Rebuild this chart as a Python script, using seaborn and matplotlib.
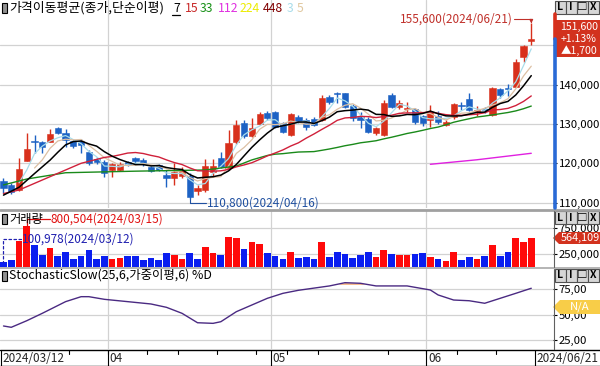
import matplotlib
matplotlib.use("Agg")
import matplotlib.pyplot as plt
from matplotlib.patches import Rectangle, Polygon
import numpy as np
import pandas as pd
import seaborn as sns

W, H = 600, 366

# trading days shown (2024)
MARCH = [12, 13, 14, 15, 18, 19, 20, 21, 22, 25, 26, 27, 28, 29]
APRIL = [1, 2, 3, 4, 5, 8, 9, 11, 12, 15, 16, 17, 18, 19, 22, 23, 24, 25, 26, 29, 30]
MAY = [2, 3, 7, 8, 9, 10, 13, 14, 16, 17, 20, 21, 22, 23, 24, 27, 28, 29, 30, 31]
JUNE = [3, 4, 5, 7, 10, 11, 12, 13, 14, 17, 18, 19, 20, 21]

OPEN = [115500, 114500, 113200, 120700, 125700, 125300, 125500, 128900, 127800, 125800,
        125800, 123000, 121000, 120400, 118300, 118400, 120300, 121300, 120800, 119000,
        119600, 117000, 116200, 116800, 116800, 113000, 113200, 117900, 121300, 118700,
        125300, 130300, 127000, 130000, 132700, 133000, 130200, 127200, 131900, 131000,
        131400, 131000, 136900, 137900, 137800, 134700, 131900, 131400, 127600, 127200,
        137400, 134400, 133900, 133700, 132000, 131000, 132000, 129700, 131700, 134700,
        136300, 133200, 133700, 132300, 138900, 139000, 139500, 147100, 151000]
HIGH = [116200, 115000, 121300, 127600, 127200, 125700, 128700, 129200, 128700, 126000,
        126200, 123500, 121500, 120800, 120100, 120300, 120700, 121600, 121400, 119200,
        119900, 118300, 120100, 119100, 117500, 114400, 121100, 121100, 122800, 128500,
        131000, 131000, 131500, 133000, 133300, 133300, 130500, 132800, 132300, 131500,
        131800, 137400, 137300, 138100, 138000, 135000, 133100, 131700, 129300, 136100,
        137800, 136000, 135500, 134200, 132400, 134800, 133300, 131000, 135400, 135600,
        137800, 134500, 134400, 139400, 139200, 140200, 146500, 150200, 155600]
LOW = [112500, 112100, 112900, 120500, 122500, 122500, 125300, 127500, 124200, 124000,
       122500, 119500, 119800, 116600, 116500, 118000, 119200, 120200, 119300, 117800,
       118000, 114000, 114500, 116300, 110800, 111900, 112800, 116600, 118800, 118400,
       125000, 126500, 126800, 129700, 131000, 129000, 127800, 127000, 130300, 128600,
       129400, 130800, 135000, 135300, 134000, 130800, 128900, 127600, 127300, 127000,
       134000, 133800, 133000, 129900, 129500, 129300, 130000, 129400, 131400, 133500,
       133300, 132000, 132700, 132000, 136500, 137100, 139300, 145900, 150100]
CLOSE = [113800, 112800, 118500, 123600, 125300, 124200, 127500, 127800, 125900, 124400,
         124700, 120000, 120300, 117600, 119800, 119900, 119600, 120600, 119800, 118100,
         118300, 116200, 117700, 118300, 111500, 113800, 119300, 119300, 119100, 125200,
         129700, 126900, 129000, 132500, 131500, 129300, 128000, 132500, 130600, 129300,
         129700, 136500, 135700, 137600, 134400, 131600, 131000, 128000, 128900, 135300,
         134400, 135300, 134100, 130600, 130200, 133100, 130600, 130600, 135000, 134500,
         133600, 133400, 133500, 139100, 137400, 138800, 145900, 149900, 151600]
VOLUME = [100978, 140000, 506000, 800504, 429000, 237000, 371000, 224000, 294000, 160000,
          217000, 333000, 160000, 217000, 153000, 179000, 217000, 217000, 140000, 172000,
          140000, 275000, 243000, 160000, 275000, 160000, 390000, 275000, 243000, 589000,
          564000, 352000, 487000, 442000, 275000, 217000, 160000, 294000, 179000, 198000,
          160000, 487000, 198000, 294000, 256000, 179000, 237000, 294000, 198000, 333000,
          256000, 237000, 237000, 256000, 275000, 198000, 160000, 121000, 294000, 140000,
          198000, 160000, 217000, 435000, 217000, 294000, 564000, 487000, 564109]
VOLUME_SIDE = "BBRRBBRBBB" "BBBBRRBBBB" "BBRRBBRRBR" "RBRRBBBRBB" "BRBBBBBBRR" "BRRBBRBRRB" "BRBRBBRRR"

MA7_HEAD_IDX, MA7_HEAD = [0, 2, 4], [111900, 113900, 117400]
MA15_HEAD_IDX, MA15_HEAD = [0, 2, 6, 10, 13], [112300, 113200, 116600, 120000, 121500]
MA33_HEAD_IDX, MA33_HEAD = [0, 3, 8, 17, 26, 30], [114500, 116000, 117600, 118000, 118300, 119300]
MA112_IDX, MA112 = [55, 61, 68], [119750, 120900, 122550]

STOCH_IDX = [0, 1, 3, 5, 8, 10, 11, 13, 16, 19, 21, 23, 25, 27, 28, 30, 34, 36, 38,
             42, 44, 46, 48, 51, 52, 55, 56, 58, 60, 62, 64, 66, 68]
STOCH_D = [38.8, 37.5, 44.0, 51.3, 62.8, 67.7, 67.7, 65.1, 62.8, 60.5, 57.2, 51.3, 42.0,
           41.4, 43.0, 52.9, 66.1, 71.0, 74.0, 78.3, 81.5, 80.9, 78.3, 78.3, 78.3, 74.3,
           69.4, 64.4, 63.7, 61.2, 66.1, 71.0, 76.0]

PRICE_TICKS = [110000, 120000, 130000, 140000, 150000]
VOLUME_TICKS = [250000, 750000]
STOCH_TICKS = [25, 50, 75]

UP, DOWN = "#d8301c", "#1d62c4"
VOL_UP, VOL_DOWN = "#ff0a0a", "#0a1ef0"
GRID = "#d2d2d2"
FS = 8.2


def fx(x):
    return x / W


def fy(y):
    return 1 - y / H


def main() -> None:
    sns.set_theme(style="white")
    plt.rcParams["font.family"] = ["Noto Sans CJK KR", "DejaVu Sans"]
    plt.rcParams["axes.unicode_minus"] = False

    dates = ([pd.Timestamp(2024, 3, d) for d in MARCH] + [pd.Timestamp(2024, 4, d) for d in APRIL]
             + [pd.Timestamp(2024, 5, d) for d in MAY] + [pd.Timestamp(2024, 6, d) for d in JUNE])
    df = pd.DataFrame({"date": dates, "open": OPEN, "high": HIGH, "low": LOW,
                       "close": CLOSE, "volume": VOLUME, "side": list(VOLUME_SIDE)})
    df["idx"] = np.arange(len(df))
    n = len(df)

    fig = plt.figure(figsize=(W / 100, H / 100), dpi=100)

    def add_ax(top, bottom):
        return fig.add_axes([0, fy(bottom), 553 / W, (bottom - top) / H])

    ax_p = add_ax(0, 208)
    ax_v = add_ax(211, 267.3)
    ax_s = add_ax(269, 349)
    xlim = (-0.45, 70.8)

    month_starts = df.index[df["date"].dt.month != df["date"].dt.month.shift(1)][1:]

    for ax in (ax_p, ax_v, ax_s):
        ax.set_facecolor("white")
        for s in ax.spines.values():
            s.set_visible(False)
        for m in month_starts:
            ax.axvline(m - 0.5, color=GRID, lw=0.9, zorder=0)

    # ---- price panel
    ax_p.set_ylim(108626, 161560)
    for t in PRICE_TICKS:
        ax_p.axhline(t, color=GRID, lw=0.9, zorder=0)
    colors = np.where(df["close"] >= df["open"], UP, DOWN)
    ax_p.vlines(df["idx"], df["low"], df["high"], colors=colors, lw=1, zorder=2)
    body = np.maximum((df["close"] - df["open"]).abs(), 250)
    ax_p.bar(df["idx"], body, bottom=np.minimum(df["open"], df["close"]), width=0.8,
             color=colors, edgecolor=colors, lw=0.4, zorder=3)

    close_s = df["close"].astype(float)

    def ma_series(window, head_idx, head_val):
        tail = close_s.rolling(window).mean().dropna()
        return list(head_idx) + list(tail.index), list(head_val) + list(tail.values)

    ma3 = close_s.rolling(3).mean().dropna()
    ma5 = close_s.rolling(5).mean().dropna()
    sns.lineplot(x=ma3.index, y=ma3.values, ax=ax_p, color="#a8dcea", lw=0.9, zorder=4)
    sns.lineplot(x=ma5.index, y=ma5.values, ax=ax_p, color="#dcc0a4", lw=0.9, zorder=4)
    for win, hi, hv, col, lw in [(33, MA33_HEAD_IDX, MA33_HEAD, "#1a8a1a", 1.0),
                                 (15, MA15_HEAD_IDX, MA15_HEAD, "#d0203a", 1.0),
                                 (7, MA7_HEAD_IDX, MA7_HEAD, "black", 1.1)]:
        xs, ys = ma_series(win, hi, hv)
        sns.lineplot(x=xs, y=ys, ax=ax_p, color=col, lw=lw, zorder=4, estimator=None, sort=False)
    sns.lineplot(x=MA112_IDX, y=MA112, ax=ax_p, color="#e020e0", lw=1.0, zorder=4)

    imax = int(df["high"].idxmax())
    imin = int(df["low"].idxmin())
    hi_val, lo_val = df.loc[imax, "high"], df.loc[imin, "low"]
    ax_p.annotate("", xy=(imax, hi_val), xytext=(-17, 4.5), textcoords="offset pixels",
                  arrowprops=dict(arrowstyle="-|>", color="#c0302a", lw=0.8, mutation_scale=5,
                                  shrinkA=0, shrinkB=0,
                                  connectionstyle="angle,angleA=0,angleB=90,rad=0"), zorder=6)
    ax_p.annotate(f"{hi_val:,}({df.loc[imax, 'date']:%Y/%m/%d})", xy=(imax, hi_val),
                  xytext=(-18, 4.5), textcoords="offset pixels", ha="right", va="center",
                  fontsize=8.5, color="#c0302a", zorder=6)
    ax_p.annotate("", xy=(imin, lo_val), xytext=(16, -3.5), textcoords="offset pixels",
                  arrowprops=dict(arrowstyle="-", color="#2050a0", lw=0.8, shrinkA=0, shrinkB=0,
                                  connectionstyle="angle,angleA=0,angleB=90,rad=0"), zorder=6)
    ax_p.annotate(f"{lo_val:,}({df.loc[imin, 'date']:%Y/%m/%d})", xy=(imin, lo_val),
                  xytext=(17, -3.5), textcoords="offset pixels", ha="left", va="center",
                  fontsize=8.5, color="#2050a0", zorder=6)

    # ---- volume panel
    vmax = (267.3 - 211) / 52 * 1e6
    ax_v.set_ylim(0, vmax)
    for t in VOLUME_TICKS:
        ax_v.axhline(t, color=GRID, lw=0.9, zorder=0)
    sns.barplot(data=df, x="idx", y="volume", hue="side", palette={"R": VOL_UP, "B": VOL_DOWN},
                native_scale=True, dodge=False, width=0.86, saturation=1, errorbar=None,
                legend=False, ax=ax_v, zorder=2, linewidth=0)
    vmx = int(df["volume"].idxmax())
    vmn = int(df["volume"].idxmin())
    ax_v.annotate("", xy=(vmx, df.loc[vmx, "volume"]), xytext=(23, 6.5), textcoords="offset pixels",
                  arrowprops=dict(arrowstyle="-", color="#e01010", lw=0.9, shrinkA=0, shrinkB=0,
                                  connectionstyle="angle,angleA=0,angleB=90,rad=0"), zorder=6)
    ax_v.annotate(f"{df.loc[vmx, 'volume']:,}({df.loc[vmx, 'date']:%Y/%m/%d})",
                  xy=(vmx, df.loc[vmx, "volume"]), xytext=(23.5, 6.5), textcoords="offset pixels",
                  ha="left", va="center", fontsize=8.5, color="#e01010", zorder=6)
    ax_v.annotate("", xy=(vmn, df.loc[vmn, "volume"]), xytext=(18, 23), textcoords="offset pixels",
                  arrowprops=dict(arrowstyle="-", color="#2020b0", lw=0.9, ls=(0, (2, 2)),
                                  shrinkA=0, shrinkB=0,
                                  connectionstyle="angle,angleA=0,angleB=90,rad=0"), zorder=6)
    ax_v.annotate(f"{df.loc[vmn, 'volume']:,}({df.loc[vmn, 'date']:%Y/%m/%d})",
                  xy=(vmn, df.loc[vmn, "volume"]), xytext=(18.5, 23), textcoords="offset pixels",
                  ha="left", va="center", fontsize=8.5, color="#2020b0", zorder=6)

    # ---- stochastic panel
    ax_s.set_ylim(16.1, 95.0)
    for t in STOCH_TICKS:
        ax_s.axhline(t, color=GRID, lw=0.9, zorder=0)
    st = np.array(STOCH_D)
    ax_s.fill_between(STOCH_IDX, 80, st, where=st > 80, interpolate=True, color="#f4a060",
                      lw=0, zorder=2)
    sns.lineplot(x=STOCH_IDX, y=STOCH_D, ax=ax_s, color="#4a2a82", lw=1.0, zorder=3)

    # ---- axes, ticks (the 150,000 label sits under the price tag, so it is left blank)
    for ax, ticks, labels in [
        (ax_p, PRICE_TICKS, [f"{t:,}" if t < CLOSE[-1] - 5000 else "" for t in PRICE_TICKS]),
        (ax_v, VOLUME_TICKS, [f"{t:,}" for t in VOLUME_TICKS]),
        (ax_s, STOCH_TICKS, [f"{t},00" for t in STOCH_TICKS]),
    ]:
        ax.set_xlim(*xlim)
        ax.set_xticks([])
        ax.set_xlabel("")
        ax.set_ylabel("")
        ax.yaxis.tick_right()
        ax.set_yticks(ticks)
        ax.set_yticklabels(labels)
        ax.tick_params(axis="y", direction="out", length=3, width=0.8, pad=1.0,
                       labelsize=FS, colors="black", right=True, left=False)

    # separators and right axis bars
    fig.add_artist(plt.Line2D([0, 1], [fy(209.5), fy(209.5)], color="#a0a0a0", lw=2))
    fig.add_artist(plt.Line2D([0, 1], [fy(268), fy(268)], color="#a8a8a8", lw=1.2))
    y_close = 202.6 - (CLOSE[-1] - 110000) / 254.5
    fig.add_artist(plt.Line2D([fx(555), fx(555)], [fy(14), fy(y_close)], color="#d8301c", lw=2.6))
    fig.add_artist(plt.Line2D([fx(555), fx(555)], [fy(y_close), fy(208)], color="#2a6ad6", lw=2.6))
    for top, bot in [(211, 267), (269, 349)]:
        fig.add_artist(plt.Line2D([fx(553.5), fx(553.5)], [fy(top), fy(bot)], color="#606060", lw=0.8))

    # date axis
    fig.add_artist(plt.Line2D([0, 1], [fy(349.5), fy(349.5)], color="black", lw=1))
    fig.add_artist(plt.Line2D([0, 1], [fy(365.5), fy(365.5)], color="black", lw=1))
    week_starts = df.index[df["date"].dt.isocalendar().week != df["date"].dt.isocalendar().week.shift(1)][1:]
    for w in week_starts:
        xpx = 3.5 + 7.76 * (w - 0.5)
        fig.add_artist(plt.Line2D([fx(xpx), fx(xpx)], [fy(349.5), fy(353.5)], color="black", lw=0.8))
    for m in month_starts:
        xpx = 3.5 + 7.76 * (m - 0.5)
        fig.add_artist(plt.Line2D([fx(xpx), fx(xpx)], [fy(349.5), fy(365.5)], color="black", lw=0.8))
        fig.text(fx(xpx + 1.5), fy(358), f"{df.loc[m, 'date']:%m}", fontsize=8.5, va="center")
    fig.add_artist(plt.Line2D([fx(1), fx(1)], [fy(349.5), fy(365.5)], color="black", lw=0.8))
    fig.text(fx(2), fy(358), f"{df['date'].iloc[0]:%Y/%m/%d}", fontsize=8.5, va="center")
    xend = 3.5 + 7.76 * (n - 0.5)
    fig.add_artist(plt.Line2D([fx(xend), fx(xend)], [fy(349.5), fy(365.5)], color="black", lw=0.8))
    fig.text(fx(xend + 1.5), fy(358), f"{df['date'].iloc[-1]:%Y/%m/%d}", fontsize=8.5, va="center")

    # legends
    for top, label, size in [(8, "가격이동평균(종가,단순이평)", 9.3), (219, "거래량", 8.8),
                             (275.5, "StochasticSlow(25,6,가중이평,6) %D", 8.9)]:
        fig.add_artist(Rectangle((fx(2), fy(top + 5)), 5 / W, 10 / H, facecolor="#909090",
                                 edgecolor="black", lw=0.8))
        fig.text(fx(9), fy(top), label, fontsize=size, va="center", color="black")
    ma_labels = [("7", "black", 173), ("15", "#c82828", 185), ("33", "#169016", 200),
                 ("112", "#e030e0", 218), ("224", "#ecec00", 240), ("448", "#800000", 263),
                 ("3", "#a8dcea", 287), ("5", "#e0c8a0", 297)]
    for txt, col, xpx in ma_labels:
        fig.text(fx(xpx), fy(8), txt, fontsize=8.8, va="center", color=col)
    fig.add_artist(plt.Line2D([fx(172), fx(180)], [fy(14.5), fy(14.5)], color="black", lw=0.9))

    # value tags
    fig.add_artist(Rectangle((fx(556), fy(57)), 44 / W, 37 / H, facecolor="#d2321e", lw=0))
    for ypx, txt in [(26.5, f"{CLOSE[-1]:,}"), (39, "+1.13%"), (51, "▲1,700")]:
        fig.text(fx(579), fy(ypx), txt, fontsize=7.6, color="white", ha="center", va="center")
    fig.add_artist(Polygon([(fx(553), fy(238)), (fx(559), fy(232)), (fx(600), fy(232)),
                            (fx(600), fy(244)), (fx(559), fy(244))], closed=True,
                           facecolor="#d2321e", lw=0))
    fig.text(fx(580), fy(238), f"{VOLUME[-1]:,}", fontsize=7.8, color="white", ha="center", va="center")
    fig.add_artist(Polygon([(fx(553), fy(307)), (fx(560), fy(300)), (fx(600), fy(300)),
                            (fx(600), fy(314)), (fx(560), fy(314))], closed=True,
                           facecolor="#f8cd48", lw=0))
    fig.text(fx(580), fy(307), "N/A", fontsize=8.2, color="white", ha="center", va="center")

    # panel buttons
    for top in (1, 211, 269):
        for k, glyph in enumerate(["L", "I", "□", "X"]):
            x0 = 555 + 11 * k
            fig.add_artist(Rectangle((fx(x0), fy(top + 13)), 10.5 / W, 13 / H,
                                     facecolor="#d6d6d6", edgecolor="#505050", lw=0.8))
            fig.text(fx(x0 + 5.25), fy(top + 6.5), glyph, fontsize=7.5, ha="center",
                     va="center", color="black", fontweight="bold")

    fig.savefig("out.png", dpi=100)
    plt.close(fig)


if __name__ == "__main__":
    main()
